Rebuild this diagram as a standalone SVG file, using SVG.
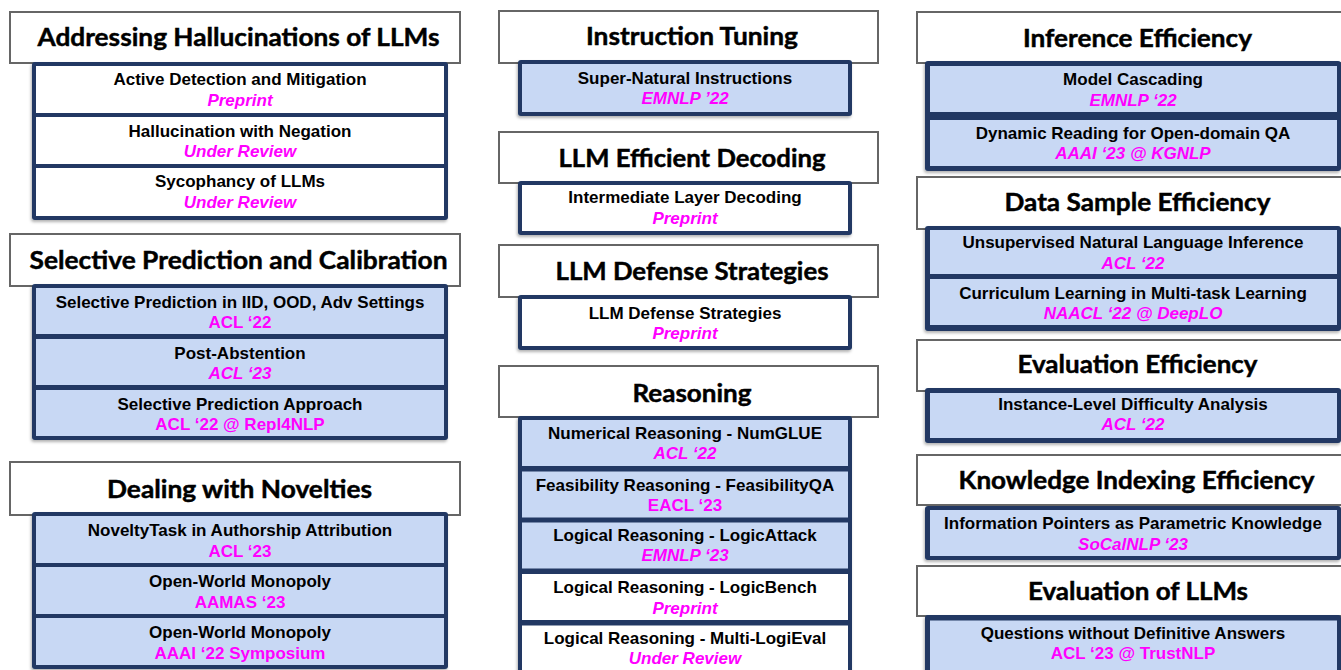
<svg xmlns="http://www.w3.org/2000/svg" width="1341" height="670" viewBox="0 0 1341 670">
<defs>
<filter id="sh" x="-5%" y="-10%" width="110%" height="125%">
<feDropShadow dx="-1" dy="2" stdDeviation="1.5" flood-color="#000" flood-opacity="0.3"/>
</filter>
</defs>
<style>
.tb{fill:#fff;stroke:#666;stroke-width:2}
.ct{fill:#203864;filter:url(#sh)}
.bl{fill:#C8D8F4}
.wh{fill:#fff}
.tt{font-family:Lato,"Open Sans",sans-serif;font-weight:bold;font-size:24px;fill:#000;stroke:#000;stroke-width:0.45;text-anchor:middle}
.it{font-family:"Liberation Sans",Arial,sans-serif;font-weight:bold;font-size:17px;fill:#000;text-anchor:middle}
.vn{font-family:"Liberation Sans",Arial,sans-serif;font-weight:bold;font-size:17px;fill:#FF00FF;text-anchor:middle}
.vi{font-family:"Liberation Sans",Arial,sans-serif;font-weight:bold;font-style:italic;font-size:17px;fill:#FF00FF;text-anchor:middle}
</style>
<rect width="1341" height="670" fill="#fff"/>
<g id="connectors"></g>

<!-- LEFT COLUMN -->
<g id="sec-hallucinations">
<g id="t-hall"><rect class="tb" x="10" y="12" width="450" height="51"/><text class="tt" x="238.5" y="46" textLength="402" lengthAdjust="spacingAndGlyphs">Addressing Hallucinations of LLMs</text></g>
<rect class="ct" x="32" y="62" width="416" height="158" rx="3"/>
<g id="n-active"><rect class="wh" x="36" y="66" width="408" height="47"/><text class="it" x="240" y="85">Active Detection and Mitigation</text><text class="vi" x="240" y="106">Preprint</text></g>
<g id="n-negation"><rect class="wh" x="36" y="117" width="408" height="47"/><text class="it" x="240" y="136.5">Hallucination with Negation</text><text class="vi" x="240" y="157">Under Review</text></g>
<g id="n-syco"><rect class="wh" x="36" y="168" width="408" height="48"/><text class="it" x="240" y="187">Sycophancy of LLMs</text><text class="vi" x="240" y="207.5">Under Review</text></g>
</g>

<g id="sec-selective">
<g id="t-sel"><rect class="tb" x="10" y="234" width="450" height="52"/><text class="tt" x="238.5" y="269" textLength="418" lengthAdjust="spacingAndGlyphs">Selective Prediction and Calibration</text></g>
<rect class="ct" x="32" y="284" width="416" height="156" rx="3"/>
<g id="n-selpred"><rect class="bl" x="36" y="288" width="408" height="46"/><text class="it" x="240" y="307.7">Selective Prediction in IID, OOD, Adv Settings</text><text class="vn" x="240" y="328.3">ACL ‘22</text></g>
<g id="n-postabs"><rect class="bl" x="36" y="339" width="408" height="46"/><text class="it" x="240" y="358.5">Post-Abstention</text><text class="vi" x="240" y="379">ACL ‘23</text></g>
<g id="n-selapp"><rect class="bl" x="36" y="390" width="408" height="46"/><text class="it" x="240" y="409.5">Selective Prediction Approach</text><text class="vn" x="240" y="430">ACL ‘22 @ Repl4NLP</text></g>
</g>

<g id="sec-novelties">
<g id="t-nov"><rect class="tb" x="10" y="462" width="450" height="53"/><text class="tt" x="239.5" y="497.7" textLength="265" lengthAdjust="spacingAndGlyphs">Dealing with Novelties</text></g>
<rect class="ct" x="32" y="512" width="416" height="157" rx="3"/>
<g id="n-noveltytask"><rect class="bl" x="36" y="516" width="408" height="47"/><text class="it" x="240" y="536">NoveltyTask in Authorship Attribution</text><text class="vn" x="240" y="556.7">ACL ‘23</text></g>
<g id="n-monopoly1"><rect class="bl" x="36" y="567" width="408" height="47"/><text class="it" x="240" y="587">Open-World Monopoly</text><text class="vn" x="240" y="607.7">AAMAS ‘23</text></g>
<g id="n-monopoly2"><rect class="bl" x="36" y="618" width="408" height="47"/><text class="it" x="240" y="638">Open-World Monopoly</text><text class="vn" x="240" y="658.7">AAAI ‘22 Symposium</text></g>
</g>

<!-- MIDDLE COLUMN -->
<g id="sec-instruction">
<g id="t-inst"><rect class="tb" x="499" y="11" width="379" height="52"/><text class="tt" x="692" y="45" textLength="212" lengthAdjust="spacingAndGlyphs">Instruction Tuning</text></g>
<rect class="ct" x="518" y="60" width="334" height="56" rx="3"/>
<g id="n-supernat"><rect class="bl" x="522" y="64" width="326" height="48"/><text class="it" x="685" y="83.8">Super-Natural Instructions</text><text class="vi" x="685" y="104.3">EMNLP ’22</text></g>
</g>

<g id="sec-decoding">
<g id="t-dec"><rect class="tb" x="499" y="132" width="379" height="51"/><text class="tt" x="692" y="166.7" textLength="267" lengthAdjust="spacingAndGlyphs">LLM Efficient Decoding</text></g>
<rect class="ct" x="518" y="181" width="334" height="54" rx="3"/>
<g id="n-interlayer"><rect class="wh" x="522" y="185" width="326" height="46"/><text class="it" x="685" y="203.2">Intermediate Layer Decoding</text><text class="vi" x="685" y="223.8">Preprint</text></g>
</g>

<g id="sec-defense">
<g id="t-def"><rect class="tb" x="499" y="245" width="379" height="52"/><text class="tt" x="692" y="280" textLength="273" lengthAdjust="spacingAndGlyphs">LLM Defense Strategies</text></g>
<rect class="ct" x="518" y="295" width="334" height="55" rx="3"/>
<g id="n-defense"><rect class="wh" x="522" y="299" width="326" height="47"/><text class="it" x="685" y="318.8">LLM Defense Strategies</text><text class="vi" x="685" y="338.8">Preprint</text></g>
</g>

<g id="sec-reasoning">
<g id="t-rea"><rect class="tb" x="499" y="366" width="379" height="51"/><text class="tt" x="692" y="401.7" textLength="119" lengthAdjust="spacingAndGlyphs">Reasoning</text></g>
<rect class="ct" x="518" y="416" width="334" height="290" rx="3"/>
<g id="n-numglue"><rect class="bl" x="522" y="420" width="326" height="46"/><text class="it" x="685" y="438.8">Numerical Reasoning - NumGLUE</text><text class="vi" x="685" y="459.3">ACL ‘22</text></g>
<g id="n-feasqa"><rect class="bl" x="522" y="471.5" width="326" height="46"/><text class="it" x="685" y="491">Feasibility Reasoning - FeasibilityQA</text><text class="vn" x="685" y="511">EACL ‘23</text></g>
<g id="n-logicattack"><rect class="bl" x="522" y="522.5" width="326" height="46"/><text class="it" x="685" y="541.3">Logical Reasoning - LogicAttack</text><text class="vi" x="685" y="561">EMNLP ‘23</text></g>
<g id="n-logicbench"><rect class="wh" x="522" y="574" width="326" height="46"/><text class="it" x="685" y="593">Logical Reasoning - LogicBench</text><text class="vi" x="685" y="613.6">Preprint</text></g>
<g id="n-multilogi"><rect class="wh" x="522" y="625.5" width="326" height="60"/><text class="it" x="685" y="644.3">Logical Reasoning - Multi-LogiEval</text><text class="vi" x="685" y="664.3">Under Review</text></g>
</g>

<!-- RIGHT COLUMN -->
<g id="sec-inference">
<g id="t-inf"><rect class="tb" x="917" y="12" width="450" height="51"/><text class="tt" x="1137.5" y="46.7" textLength="229" lengthAdjust="spacingAndGlyphs">Inference Efficiency</text></g>
<rect class="ct" x="925" y="61" width="416" height="110" rx="3"/>
<g id="n-cascade"><rect class="bl" x="930" y="66" width="407" height="46"/><text class="it" x="1133" y="85">Model Cascading</text><text class="vi" x="1133" y="106">EMNLP ‘22</text></g>
<g id="n-dynread"><rect class="bl" x="930" y="120" width="407" height="46"/><text class="it" x="1133" y="138.6">Dynamic Reading for Open-domain QA</text><text class="vi" x="1133" y="158.6">AAAI ‘23 @ KGNLP</text></g>
</g>

<g id="sec-datasample">
<g id="t-data"><rect class="tb" x="917" y="177" width="450" height="52"/><text class="tt" x="1137.5" y="211" textLength="266" lengthAdjust="spacingAndGlyphs">Data Sample Efficiency</text></g>
<rect class="ct" x="925" y="226" width="416" height="105" rx="3"/>
<g id="n-unsupnli"><rect class="bl" x="930" y="230" width="407" height="44"/><text class="it" x="1133" y="248">Unsupervised Natural Language Inference</text><text class="vi" x="1133" y="268.6">ACL ‘22</text></g>
<g id="n-curriculum"><rect class="bl" x="930" y="279" width="407" height="46"/><text class="it" x="1133" y="298.6">Curriculum Learning in Multi-task Learning</text><text class="vi" x="1133" y="318.6">NAACL ‘22 @ DeepLO</text></g>
</g>

<g id="sec-evaleff">
<g id="t-evaleff"><rect class="tb" x="917" y="340" width="450" height="51"/><text class="tt" x="1137.5" y="373.3" textLength="240" lengthAdjust="spacingAndGlyphs">Evaluation Efficiency</text></g>
<rect class="ct" x="925" y="388" width="416" height="55" rx="3"/>
<g id="n-instdiff"><rect class="bl" x="930" y="393" width="407" height="45"/><text class="it" x="1133" y="410.3">Instance-Level Difficulty Analysis</text><text class="vi" x="1133" y="430.3">ACL ‘22</text></g>
</g>

<g id="sec-knowledge">
<g id="t-know"><rect class="tb" x="917" y="455" width="450" height="50"/><text class="tt" x="1136.5" y="489.3" textLength="356" lengthAdjust="spacingAndGlyphs">Knowledge Indexing Efficiency</text></g>
<rect class="ct" x="925" y="506" width="416" height="54" rx="3"/>
<g id="n-infopointers"><rect class="bl" x="930" y="510" width="407" height="46"/><text class="it" x="1133" y="528.6">Information Pointers as Parametric Knowledge</text><text class="vi" x="1133" y="549.6">SoCalNLP ‘23</text></g>
</g>

<g id="sec-evalllm">
<g id="t-evalllm"><rect class="tb" x="917" y="566" width="450" height="50"/><text class="tt" x="1138" y="600" textLength="220" lengthAdjust="spacingAndGlyphs">Evaluation of LLMs</text></g>
<rect class="ct" x="925" y="615" width="416" height="90" rx="3"/>
<g id="n-questions"><rect class="bl" x="930" y="620.5" width="407" height="80"/><text class="it" x="1133" y="638.6">Questions without Definitive Answers</text><text class="vn" x="1133" y="658.6">ACL ‘23 @ TrustNLP</text></g>
</g>
</svg>
